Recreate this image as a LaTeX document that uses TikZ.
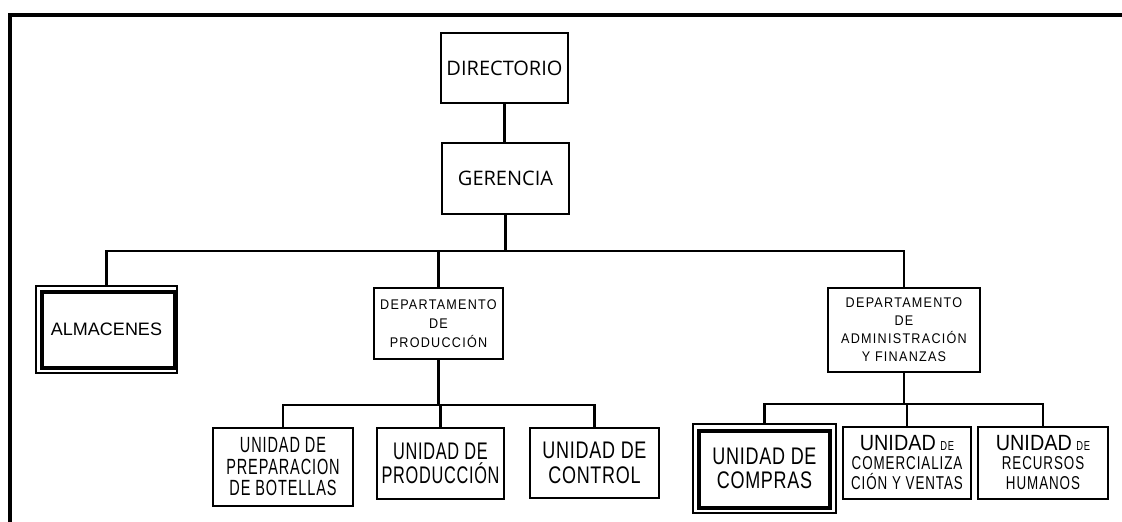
\documentclass[tikz,border=0pt]{standalone}
\usepackage{fontspec}
\setmainfont{Liberation Sans}
\newfontfamily\humfont{Open Sans}
\newfontfamily\deptfont[FakeStretch=0.9, LetterSpace=9]{Liberation Sans}
\newfontfamily\prepfont[FakeStretch=0.66, LetterSpace=4]{Liberation Sans}
\newfontfamily\unitfont[FakeStretch=0.68, LetterSpace=3]{Liberation Sans}
\newfontfamily\unitwfont[FakeStretch=0.75, LetterSpace=3]{Liberation Sans}
\newfontfamily\bigfont[FakeStretch=0.9]{Liberation Sans}
\newfontfamily\smallfont[FakeStretch=0.72, LetterSpace=5]{Liberation Sans}
\begin{document}
\begin{tikzpicture}[x=1pt,y=-1pt,
  box/.style={draw, line width=2.6pt, inner sep=0pt, align=center},
  link/.style={line width=2.4pt},
  frameline/.style={line width=3.5pt},
  toptext/.style={font=\humfont\fontsize{20}{24}\selectfont},
  dept/.style={font=\deptfont\fontsize{14}{19}\selectfont},
  mixed/.style={font=\smallfont\fontsize{18.6}{20}\selectfont}
 ]
\useasboundingbox (0,0) rectangle (1122,522);
\draw[frameline] (10,522) -- (10,15) -- (1122,15);

% top levels
\node[box, toptext, minimum width=127pt, minimum height=70pt] (dir) at (504.5,68) {DIRECTORIO};
\node[box, toptext, minimum width=127pt, minimum height=71pt] (ger) at (505.5,178.5) {GERENCIA};

% second level
\node[box, line width=2pt, minimum width=141pt, minimum height=87pt, font=\fontsize{18}{20}\selectfont] (alm) at (106.5,329.5) {ALMACENES};
\draw[line width=3.4pt] ([xshift=7pt,yshift=-7pt]alm.north west) rectangle ([xshift=-3pt,yshift=6pt]alm.south east);
\node[box, dept, minimum width=129pt, minimum height=71pt] (prod) at (438.5,323.5) {DEPARTAMENTO\\DE\\PRODUCCIÓN};
\node[box, minimum width=152pt, minimum height=84pt, font=\deptfont\fontsize{14}{18}\selectfont] (adm) at (904,330) {DEPARTAMENTO\\DE\\ADMINISTRACIÓN\\Y FINANZAS};

% third level, production
\node[box, minimum width=140pt, minimum height=78pt, font=\prepfont\fontsize{22}{21.5}\selectfont] (prep) at (283,467) {UNIDAD DE\\PREPARACION\\DE BOTELLAS};
\node[box, minimum width=127pt, minimum height=71pt, font=\unitfont\fontsize{24}{24}\selectfont] (uprod) at (440.5,463.5) {UNIDAD DE\\PRODUCCIÓN};
\node[box, minimum width=129pt, minimum height=70pt, font=\unitwfont\fontsize{24}{25}\selectfont] (ctrl) at (594.5,463) {UNIDAD DE\\CONTROL};

% third level, administration
\node[box, line width=2pt, minimum width=143pt, minimum height=89pt, font=\unitwfont\fontsize{24}{24}\selectfont] (comp) at (764.5,468.5) {UNIDAD DE\\COMPRAS};
\draw[line width=3.4pt] ([xshift=7pt,yshift=-8pt]comp.north west) rectangle ([xshift=-7pt,yshift=6pt]comp.south east);
\node[box, mixed, minimum width=128pt, minimum height=72pt] (com) at (907,463) {{\bigfont\fontsize{22}{22}\selectfont UNIDAD} {\fontsize{13}{13}\selectfont DE}\\[-1pt]COMERCIALIZA\\CIÓN Y VENTAS};
\node[box, mixed, minimum width=130pt, minimum height=72pt] (rrhh) at (1043,463) {{\bigfont\fontsize{22}{22}\selectfont UNIDAD} {\fontsize{13}{13}\selectfont DE}\\[-1pt]RECURSOS\\HUMANOS};

% connectors
\coordinate (b1) at (505,251);
\coordinate (b2) at (440,405);
\coordinate (b3) at (906,404);
\draw[link] (dir.south) -- (dir.south |- ger.north);
\draw[link] (ger.south) -- (ger.south |- b1);
\draw[link] (alm.north) |- (b1) -| (adm.north);
\draw[link] (prod.north) -- (prod.north |- b1);
\draw[link] (prod.south) -- (prod.south |- b2);
\draw[link] (prep.north) |- (b2) -| (ctrl.north);
\draw[link] (uprod.north) -- (uprod.north |- b2);
\draw[link] (adm.south) -- (adm.south |- b3);
\draw[link] (comp.north) |- (b3) -| (rrhh.north);
\draw[link] (com.north) -- (com.north |- b3);
\end{tikzpicture}
\end{document}
